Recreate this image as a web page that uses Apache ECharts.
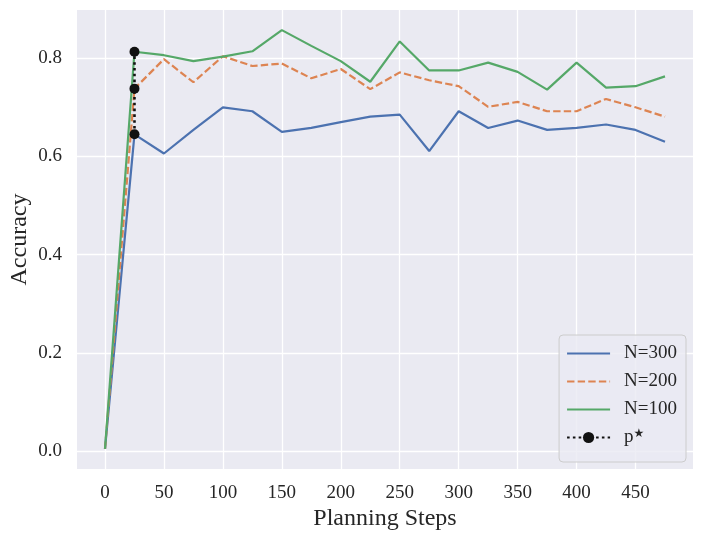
<!DOCTYPE html>
<html><head><meta charset="utf-8">
<script src="https://cdn.jsdelivr.net/npm/echarts@6/dist/echarts.min.js"></script>
<style>html,body{margin:0;padding:0;background:#fff}#c{width:705px;height:540px}</style>
</head><body><div id="c"></div>
<script>
const steps = [0,25,50,75,100,125,150,175,200,225,250,275,300,325,350,375,400,425,450,475];
const n300 = [0.005,0.645,0.606,0.654,0.700,0.692,0.650,0.658,0.670,0.681,0.685,0.611,0.692,0.658,0.673,0.654,0.658,0.665,0.654,0.630];
const n200 = [0.005,0.738,0.798,0.751,0.804,0.784,0.789,0.759,0.778,0.737,0.771,0.755,0.743,0.701,0.711,0.692,0.692,0.717,0.700,0.681];
const n100 = [0.005,0.813,0.806,0.794,0.803,0.814,0.857,0.825,0.794,0.752,0.834,0.775,0.775,0.791,0.772,0.736,0.791,0.740,0.743,0.763];
const pStarStep = 25;
const pStarVals = [0.645,0.738,0.813];

const font = 'Liberation Serif';
const pair = (xs, ys) => xs.map((x,i)=>[x, ys[i]]);
const chart = echarts.init(document.getElementById('c'), null, {renderer:'canvas'});
chart.setOption({
  backgroundColor:'#ffffff',
  animation:false,
  grid:{left:77, right:12, top:10, bottom:71, show:true, backgroundColor:'#EAEAF2', borderWidth:0,
    containLabel:false, outerBoundsMode:'none'},
  xAxis:{type:'value', min:-23.75, max:498.75, splitNumber:10, minInterval:50, maxInterval:50,
    name:'Planning Steps', nameLocation:'middle', nameGap:38, nameMoveOverlap:false,
    nameTextStyle:{fontFamily:font, fontSize:24, color:'#262626'},
    axisLine:{show:false}, axisTick:{show:false},
    axisLabel:{fontFamily:font, fontSize:19, color:'#262626', margin:15, showMinLabel:false, showMaxLabel:false,
      formatter:v=> (Math.abs(v%50)<1e-6 ? String(v) : '')},
    splitLine:{show:true, showMinLine:false, showMaxLine:false, lineStyle:{color:'#ffffff', width:1.3}}},
  yAxis:{type:'value', min:-0.036, max:0.898, splitNumber:5, minInterval:0.2, maxInterval:0.2,
    name:'Accuracy', nameLocation:'middle', nameGap:45, nameMoveOverlap:false,
    nameTextStyle:{fontFamily:font, fontSize:24, color:'#262626'},
    axisLine:{show:false}, axisTick:{show:false},
    axisLabel:{fontFamily:font, fontSize:19, color:'#262626', margin:15, showMinLabel:false, showMaxLabel:false,
      formatter:v=> v.toFixed(1)},
    splitLine:{show:true, showMinLine:false, showMaxLine:false, lineStyle:{color:'#ffffff', width:1.3}}},
  legend:{orient:'vertical', right:19, bottom:78, padding:[9,9,14,7],
    backgroundColor:'rgba(234,234,242,0.8)', borderColor:'#cccccc', borderWidth:1, borderRadius:4,
    itemWidth:43, itemHeight:14, itemGap:9,
    textStyle:{fontFamily:font, fontSize:19, lineHeight:19, color:'#262626', padding:[0,0,0,9],
      rich:{sup:{fontFamily:'DejaVu Sans', fontSize:12, color:'#262626', verticalAlign:'top', lineHeight:12, padding:[0,0,8,0]}}},
    formatter:name=> name==='p*' ? 'p{sup|★}' : name,
    data:[{name:'N=300', itemStyle:{opacity:0}},{name:'N=200', itemStyle:{opacity:0}},{name:'N=100', itemStyle:{opacity:0}},{name:'p*'}]},
  series:[
    {name:'N=300', type:'line', data:pair(steps,n300), showSymbol:false, symbol:'none', color:'#4C72B0',
      lineStyle:{width:2.2, color:'#4C72B0'}},
    {name:'N=200', type:'line', data:pair(steps,n200), showSymbol:false, symbol:'none', color:'#DD8452',
      lineStyle:{width:2.2, color:'#DD8452', type:[7.4,3.2]}},
    {name:'N=100', type:'line', data:pair(steps,n100), showSymbol:false, symbol:'none', color:'#55A868',
      lineStyle:{width:2.2, color:'#55A868'}},
    {name:'p*', type:'line', data:pStarVals.map(v=>[pStarStep,v]), symbol:'circle', symbolSize:10, color:'#111111',
      itemStyle:{color:'#111111'}, lineStyle:{width:2.6, color:'#111111', type:[2.6,3.2]}, z:5}
  ]
});
</script></body></html>
